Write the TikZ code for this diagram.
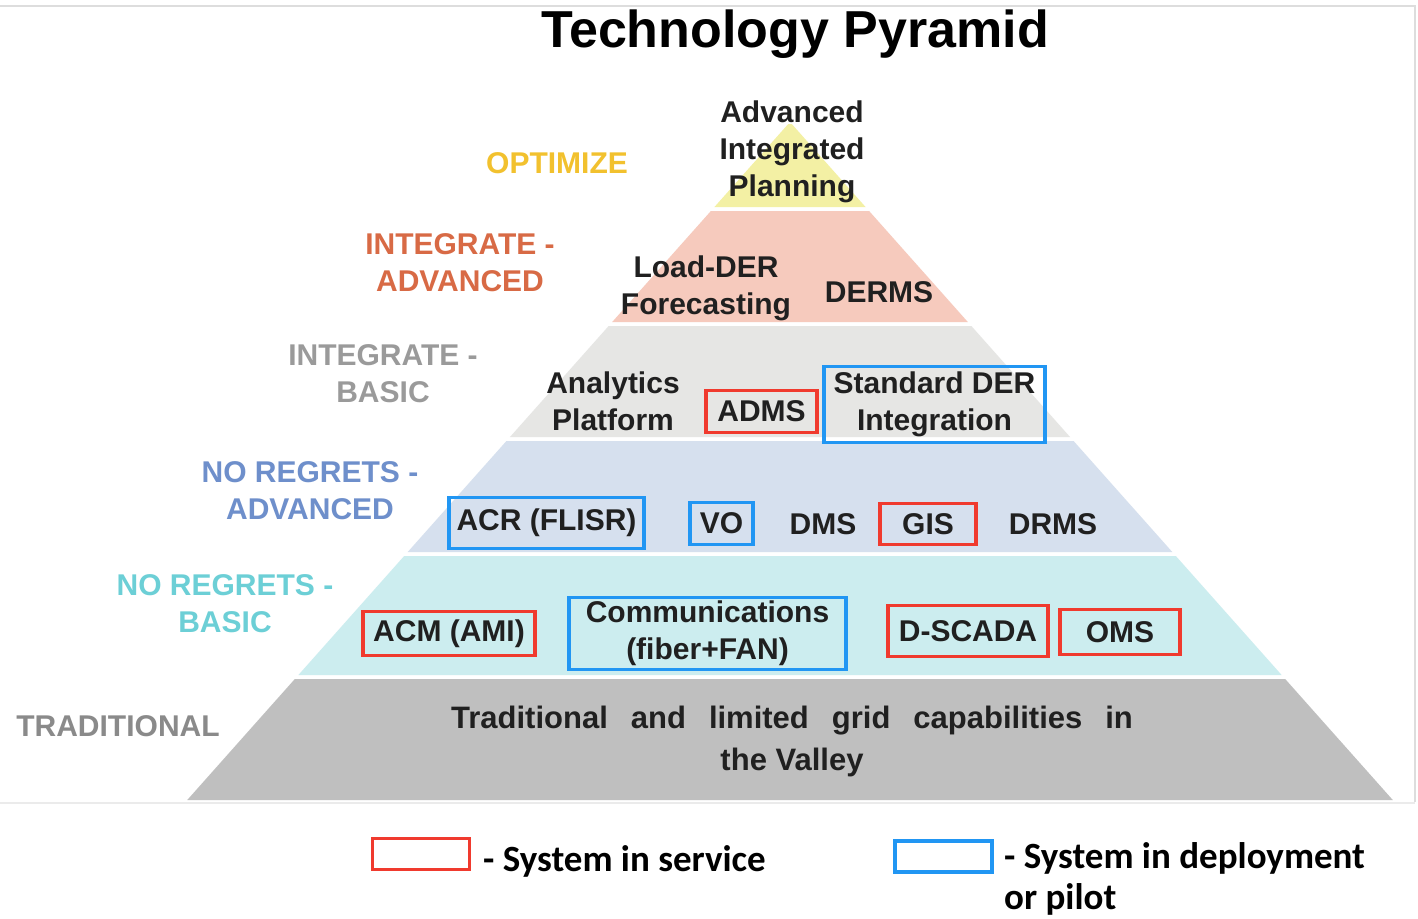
\documentclass[tikz,border=0pt]{standalone}
\usepackage{fontspec}
\setmainfont{Liberation Sans}
\newfontfamily\legendfont{Carlito}

\definecolor{tierYellow}{HTML}{F3F0A4}
\definecolor{tierPink}{HTML}{F6CABD}
\definecolor{tierLight}{HTML}{E6E6E4}
\definecolor{tierBlue}{HTML}{D6E0EE}
\definecolor{tierTeal}{HTML}{CCEDEF}
\definecolor{tierGray}{HTML}{BFBFBF}
\definecolor{lblOptimize}{HTML}{F2C12E}
\definecolor{lblIntAdv}{HTML}{D86A45}
\definecolor{lblIntBasic}{HTML}{9A9A9A}
\definecolor{lblNrAdv}{HTML}{6E8FCB}
\definecolor{lblNrBasic}{HTML}{6CCFD6}
\definecolor{lblTrad}{HTML}{8A8A8A}
\definecolor{textDark}{HTML}{202020}
\definecolor{boxRed}{HTML}{F03A2E}
\definecolor{boxBlue}{HTML}{2196F3}
\definecolor{frameGray}{HTML}{DDDDDD}

% one horizontal band of the pyramid, between two heights
\newcommand\tierband[3]{%
  \fill[#1] ({790-0.889*(#2-122)},#2) -- ({790+0.889*(#2-122)},#2)
    -- ({790+0.889*(#3-122)},#3) -- ({790-0.889*(#3-122)},#3) -- cycle;}
% wide word gap used in the base band
\newcommand\widegap{\hspace*{23pt}}

\begin{document}
\begin{tikzpicture}[x=1pt,y=-1pt,
  tiertext/.style={font=\bfseries\fontsize{30}{37}\selectfont, text=textDark, align=center, inner sep=0pt},
  level/.style={font=\bfseries\fontsize{30}{37}\selectfont, align=center, inner sep=0pt},
  inservice/.style={tiertext, draw=boxRed, line width=3.8pt},
  inpilot/.style={tiertext, draw=boxBlue, line width=3.8pt},
  legendtext/.style={font=\legendfont\bfseries\fontsize{37}{41}\selectfont, text=black, align=left, inner sep=0pt}]

\useasboundingbox (0,0) rectangle (1418,918);
\fill[white] (0,0) rectangle (1418,918);

% frame of the pyramid panel
\draw[frameGray, line width=1.5pt] (0,6) -- (1415,6) -- (1415,802);
\draw[frameGray!60, line width=1.5pt] (0,803) -- (1415,803);

% pyramid bands
\tierband{tierYellow}{124}{207}
\tierband{tierPink}{211}{322}
\tierband{tierLight}{326}{437}
\tierband{tierBlue}{441}{552}
\tierband{tierTeal}{556}{675}
\tierband{tierGray}{679}{800}

% title
\node[font=\bfseries\fontsize{52}{60}\selectfont, inner sep=0pt, anchor=base] (title) at (795,47) {Technology Pyramid};

% level labels
\node[level, text=lblOptimize] (optimize) at (557,163) {OPTIMIZE};
\node[level, text=lblIntAdv] (intadv) at (460,263) {INTEGRATE -\\ADVANCED};
\node[level, text=lblIntBasic] (intbasic) at (383,374) {INTEGRATE -\\BASIC};
\node[level, text=lblNrAdv] (nradv) at (310,491) {NO REGRETS -\\ADVANCED};
\node[level, text=lblNrBasic] (nrbasic) at (225,604) {NO REGRETS -\\BASIC};
\node[level, text=lblTrad] (trad) at (118,726) {TRADITIONAL};

% optimize
\node[tiertext] (aip) at (792,152) {Advanced\\Integrated\\Planning};

% integrate - advanced
\node[tiertext] (forecast) at (706,288) {Load-DER\\Forecasting};
\node[tiertext] (derms) at (879,292) {DERMS};

% integrate - basic
\node[tiertext] (analytics) at (613,401) {Analytics\\Platform};
\node[inservice, minimum width=111pt, minimum height=42pt] (adms) at (761.5,411.5) {ADMS};
\node[inpilot, minimum width=221pt, minimum height=76pt] (stdder) at (934.5,404.5) {Standard DER\\Integration};

% no regrets - advanced
\node[inpilot, minimum width=195pt, minimum height=51pt] (acr) at (546.5,523) {ACR (FLISR)};
\node[inpilot, minimum width=63pt, minimum height=42pt] (vo) at (721.5,523.5) {VO};
\node[tiertext] (dms) at (823,524) {DMS};
\node[inservice, minimum width=96pt, minimum height=41pt] (gis) at (928,524) {GIS};
\node[tiertext] (drms) at (1053,524) {DRMS};

% no regrets - basic
\node[inservice, minimum width=172pt, minimum height=44pt] (acm) at (449,633.5) {ACM (AMI)};
\node[inpilot, minimum width=277pt, minimum height=72pt] (comms) at (707.5,633.5) {Communications\\(fiber+FAN)};
\node[inservice, minimum width=160pt, minimum height=51pt] (dscada) at (968,631) {D-SCADA};
\node[inservice, minimum width=120pt, minimum height=45pt] (oms) at (1120,632) {OMS};

% traditional
\node[tiertext, font=\bfseries\fontsize{31}{42}\selectfont] (tradtext) at (792,741)
  {Traditional\widegap and\widegap limited\widegap grid\widegap capabilities\widegap in\\the Valley};

% legend
\node[draw=boxRed, line width=3.5pt, minimum width=97pt, minimum height=31pt, inner sep=0pt] (keyred) at (421,854) {};
\node[legendtext, anchor=west] (keyredtext) at (483,861) {- System in service};
\node[draw=boxBlue, line width=3.5pt, minimum width=97pt, minimum height=31pt, inner sep=0pt] (keyblue) at (943.5,856.5) {};
\node[legendtext, anchor=north west] (keybluetext) at (1004,842) {- System in deployment\\or pilot};

\end{tikzpicture}
\end{document}
